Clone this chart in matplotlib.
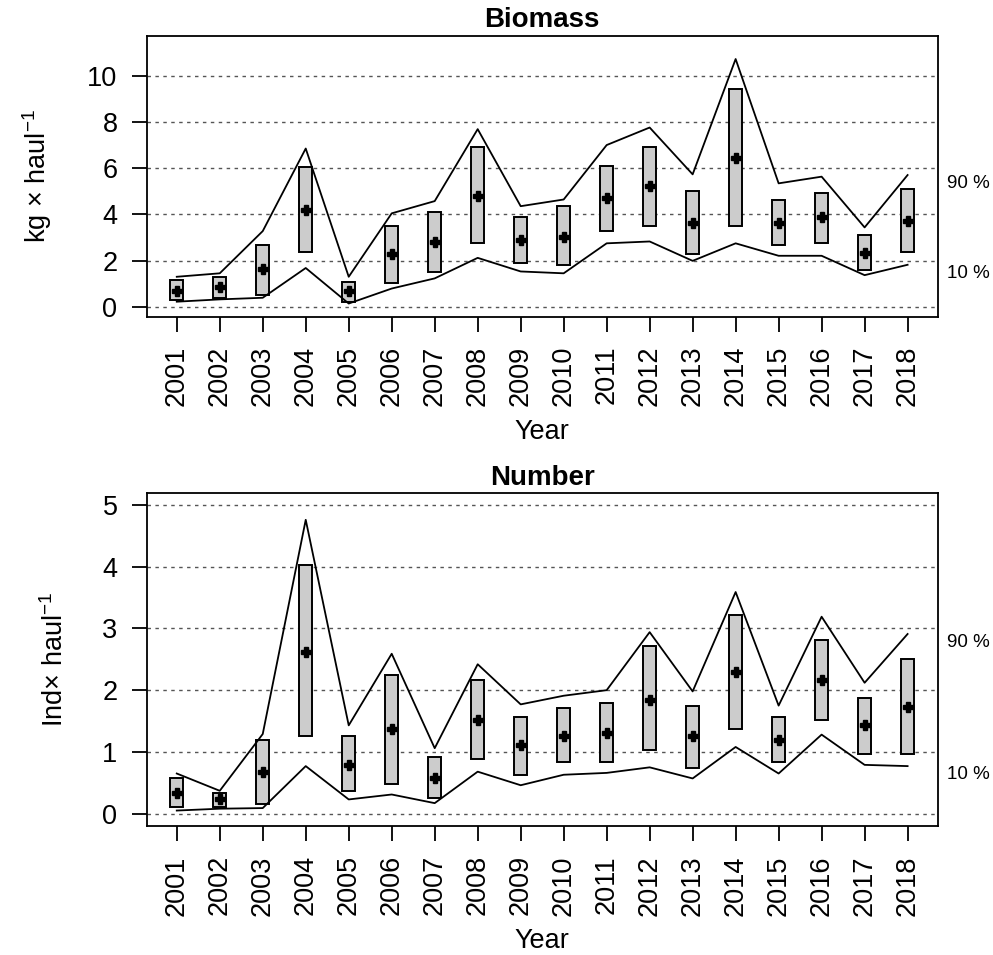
import numpy as np
import matplotlib
matplotlib.use('Agg')
import matplotlib.pyplot as plt
from matplotlib import transforms

plt.rcParams['font.family'] = ['Liberation Sans', 'DejaVu Sans']
plt.rcParams['mathtext.fontset'] = 'custom'
plt.rcParams['mathtext.rm'] = 'Liberation Sans'
plt.rcParams['mathtext.it'] = 'Liberation Sans:italic'

years = np.arange(2001, 2019)

# biomass index (kg per haul): mean, box limits, 10 % and 90 % bands
bio_mean = [0.69, 0.84, 1.62, 4.19, 0.69, 2.28, 2.82, 4.81, 2.89,
            3.03, 4.71, 5.23, 3.64, 6.45, 3.64, 3.89, 2.34, 3.73]
bio_low = [0.29, 0.36, 0.51, 2.36, 0.22, 1.05, 1.52, 2.75, 1.91,
           1.81, 3.27, 3.50, 2.28, 3.50, 2.66, 2.75, 1.59, 2.36]
bio_high = [1.16, 1.30, 2.67, 6.04, 1.07, 3.51, 4.12, 6.94, 3.89,
            4.35, 6.10, 6.94, 5.03, 9.45, 4.64, 4.94, 3.12, 5.10]
bio_p10 = [0.22, 0.32, 0.39, 1.68, 0.14, 0.79, 1.23, 2.12, 1.53,
           1.45, 2.75, 2.83, 1.99, 2.75, 2.21, 2.21, 1.37, 1.82]
bio_p90 = [1.30, 1.45, 3.28, 6.86, 1.30, 4.05, 4.58, 7.70, 4.36,
           4.65, 7.01, 7.77, 5.74, 10.74, 5.35, 5.64, 3.44, 5.71]

# abundance index (individuals per haul)
num_mean = [0.34, 0.23, 0.68, 2.62, 0.79, 1.37, 0.57, 1.51, 1.11,
            1.25, 1.31, 1.84, 1.25, 2.29, 1.19, 2.17, 1.43, 1.73]
num_low = [0.11, 0.11, 0.15, 1.25, 0.37, 0.48, 0.25, 0.88, 0.62,
           0.83, 0.83, 1.03, 0.74, 1.37, 0.83, 1.51, 0.97, 0.97]
num_high = [0.57, 0.34, 1.19, 4.02, 1.25, 2.25, 0.91, 2.17, 1.57,
            1.71, 1.80, 2.71, 1.74, 3.22, 1.57, 2.82, 1.88, 2.51]
num_p10 = [0.05, 0.08, 0.09, 0.77, 0.23, 0.31, 0.17, 0.68, 0.46,
           0.63, 0.66, 0.75, 0.57, 1.08, 0.65, 1.28, 0.79, 0.77]
num_p90 = [0.65, 0.37, 1.29, 4.76, 1.43, 2.59, 1.06, 2.42, 1.77,
           1.91, 2.00, 2.94, 1.98, 3.59, 1.75, 3.19, 2.12, 2.91]


def panel(ax, mean, low, high, p10, p90, yticks, ylim, title, ylabel):
    for y in yticks:
        ax.axhline(y, color='#555555', lw=1.0, dashes=(2.5, 3.2), zorder=0)
    low = np.array(low)
    high = np.array(high)
    ax.bar(years, high - low, bottom=low, width=0.3, color='#cccccc',
           edgecolor='black', linewidth=1.4, zorder=2)
    ax.plot(years, p90, color='black', lw=1.3, zorder=3)
    ax.plot(years, p10, color='black', lw=1.3, zorder=3)
    ax.plot(years, mean, linestyle='none', marker='P', color='black',
            markersize=7, zorder=4)
    ax.set_xlim(years[0] - 0.7, years[-1] + 0.7)
    ax.set_ylim(*ylim)
    ax.set_yticks(yticks)
    ax.set_xticks(years)
    ax.set_xticklabels([str(y) for y in years], rotation=90)
    ax.tick_params(labelsize=19.5, length=11, width=1.3, pad=10)
    for s in ax.spines.values():
        s.set_linewidth(1.3)
    ax.set_title(title, fontsize=20, fontweight='bold', pad=6)
    ax.set_xlabel('Year', fontsize=19.5, labelpad=9)
    ax.set_ylabel(ylabel, fontsize=19.5, labelpad=24)
    tr = transforms.blended_transform_factory(ax.transAxes, ax.transData)
    ax.text(1.012, p90[-1], '90 %', transform=tr, fontsize=13.5, va='top')
    ax.text(1.012, p10[-1], '10 %', transform=tr, fontsize=13.5, va='top')


fig = plt.figure(figsize=(9.93, 9.55), dpi=100)
ax1 = fig.add_axes([0.1477, 0.6684, 0.7966, 0.2942])
ax2 = fig.add_axes([0.1477, 0.1351, 0.7966, 0.3484])

panel(ax1, bio_mean, bio_low, bio_high, bio_p10, bio_p90,
      [0, 2, 4, 6, 8, 10], (-0.43, 11.75), 'Biomass',
      'kg \u00d7 haul$^{-1}$')
panel(ax2, num_mean, num_low, num_high, num_p10, num_p90,
      [0, 1, 2, 3, 4, 5], (-0.2, 5.19), 'Number',
      'Ind\u00d7 haul$^{-1}$')

fig.savefig('out.png', dpi=100)
